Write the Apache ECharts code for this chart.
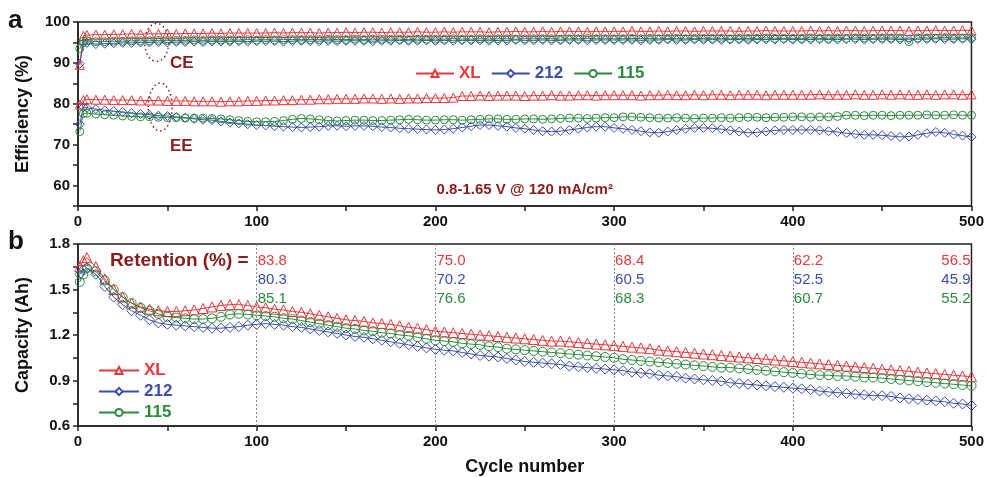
<!DOCTYPE html>
<html>
<head>
<meta charset="utf-8">
<script src="https://cdn.jsdelivr.net/npm/echarts@6/dist/echarts.min.js"></script>
<style>
  html, body { margin: 0; padding: 0; background: #fff; }
  #chart { width: 987px; height: 477px; }
</style>
</head>
<body>
<div id="chart"></div>
<script>
// cycles sampled: 1, 3, then every 5 cycles up to 500
const cycles = [1, 3];
for (let c = 5; c <= 500; c += 5) cycles.push(c);

// panel a: coulombic efficiency (%)
const ceXL = [
  89.5, 96.6, 96.8, 96.9, 96.9, 97.0, 97.0, 97.1, 97.0, 97.1, 97.1, 97.2,
  97.1, 97.2, 97.2, 97.2, 97.3, 97.2, 97.3, 97.3, 97.3, 97.3,
  97.3, 97.4, 97.3, 97.4, 97.4, 97.4, 97.3, 97.4, 97.4, 97.5,
  97.4, 97.5, 97.5, 97.4, 97.5, 97.5, 97.5, 97.6, 97.5, 97.5,
  97.6, 97.5, 97.6, 97.6, 97.6, 97.5, 97.6, 97.6, 97.7, 97.6,
  97.6, 97.7, 97.6, 97.7, 97.7, 97.7, 97.6, 97.7, 97.7, 97.7,
  97.7, 97.8, 97.7, 97.7, 97.8, 97.7, 97.8, 97.8, 97.7, 97.8,
  97.8, 97.8, 97.8, 97.7, 97.8, 97.8, 97.9, 97.8, 97.8, 97.8,
  97.8, 97.9, 97.8, 97.9, 97.8, 97.9, 97.9, 97.8, 97.9, 97.9,
  97.9, 97.9, 97.8, 97.9, 97.9, 98.0, 97.9, 97.9, 98.0, 97.9
];
const ce212 = [
  89.8, 94.8, 94.9, 94.6, 94.7, 94.8, 94.9, 94.9, 95.0, 95.0, 95.1, 95.0,
  95.1, 95.1, 95.2, 95.1, 95.2, 95.2, 95.2, 95.3, 95.2, 95.3,
  95.3, 95.3, 95.2, 95.3, 95.4, 95.3, 95.3, 95.4, 95.3, 95.4,
  95.4, 95.4, 95.3, 95.4, 95.4, 95.5, 95.4, 95.4, 95.5, 95.4,
  95.5, 95.4, 95.5, 95.5, 95.5, 95.4, 95.5, 95.5, 95.6, 95.5,
  95.5, 95.6, 95.5, 95.5, 95.6, 95.6, 95.5, 95.6, 95.6, 95.6,
  95.6, 95.6, 95.5, 95.6, 95.6, 95.7, 95.6, 95.6, 95.7, 95.6,
  95.7, 95.6, 95.7, 95.7, 95.6, 95.7, 95.7, 95.7, 95.8, 95.7,
  95.7, 95.7, 95.8, 95.7, 95.7, 95.8, 95.8, 95.7, 95.8, 95.8,
  95.8, 95.7, 95.8, 95.8, 95.8, 95.9, 95.8, 95.8, 95.9, 95.8
];
const ce115 = [
  93.5, 95.3, 95.4, 95.2, 95.2, 95.3, 95.3, 95.4, 95.4, 95.4, 95.5, 95.5,
  95.5, 95.5, 95.6, 95.5, 95.6, 95.6, 95.6, 95.6, 95.7, 95.6,
  95.7, 95.6, 95.7, 95.7, 95.7, 95.7, 95.7, 95.8, 95.7, 95.7,
  95.8, 95.7, 95.8, 95.8, 95.8, 95.8, 95.7, 95.8, 95.8, 95.8,
  95.8, 95.9, 95.8, 95.8, 95.9, 95.8, 95.9, 95.9, 95.8, 95.9,
  95.9, 95.9, 95.9, 95.8, 95.9, 95.9, 96.0, 95.9, 95.9, 95.9,
  95.9, 96.0, 95.9, 96.0, 95.9, 96.0, 96.0, 95.9, 96.0, 96.0,
  96.0, 96.0, 95.9, 96.0, 96.0, 96.0, 96.1, 96.0, 96.0, 96.0,
  96.0, 96.1, 96.0, 96.0, 96.1, 96.0, 96.1, 96.1, 96.0, 96.1,
  96.1, 96.1, 95.2, 96.1, 96.1, 96.1, 96.2, 96.1, 96.1, 96.2
];

// panel a: energy efficiency (%)
const eeXL = [
  79.8, 80.9, 81.1, 81.0, 81.0, 80.9, 80.9, 80.9, 80.8, 80.8, 80.8, 80.7,
  80.7, 80.7, 80.6, 80.6, 80.6, 80.5, 80.6, 80.6, 80.7, 80.7,
  80.8, 80.8, 80.9, 80.9, 81.0, 81.0, 81.1, 81.1, 81.2, 81.2,
  81.2, 81.3, 81.3, 81.2, 81.3, 81.2, 81.3, 81.3, 81.4, 81.4,
  81.4, 81.5, 81.9, 81.9, 82.0, 81.9, 82.0, 82.0, 82.0, 81.9,
  82.0, 82.0, 82.1, 82.0, 82.0, 82.1, 82.1, 82.0, 82.1, 82.1,
  82.1, 82.1, 82.0, 82.1, 82.1, 82.2, 82.1, 82.1, 82.2, 82.1,
  82.2, 82.2, 82.1, 82.2, 82.2, 82.2, 82.1, 82.2, 82.2, 82.2,
  82.2, 82.2, 82.3, 82.2, 82.2, 82.2, 82.3, 82.2, 82.2, 82.3,
  82.2, 82.3, 82.2, 82.2, 82.3, 82.2, 82.3, 82.3, 82.2, 82.3
];
const ee212 = [
  75.0, 79.2, 79.0, 78.7, 78.4, 78.2, 78.0, 77.7, 77.5, 77.3, 77.1, 77.0,
  76.8, 76.6, 76.3, 76.1, 76.0, 75.7, 75.4, 75.2, 75.0, 74.8,
  74.7, 74.5, 74.4, 74.3, 74.2, 74.3, 74.4, 74.6, 74.6, 74.5,
  74.6, 74.6, 74.5, 74.3, 74.2, 74.0, 73.9, 73.8, 73.7, 73.6,
  73.7, 73.9, 74.2, 74.5, 74.8, 74.8, 74.6, 74.4, 74.1, 73.9,
  73.6, 73.3, 73.2, 73.3, 73.6, 73.9, 74.2, 74.4, 74.4, 74.1,
  73.9, 73.6, 73.3, 73.0, 72.9, 73.2, 73.6, 73.9, 74.1, 74.1,
  74.0, 73.8, 73.5, 73.2, 72.9, 73.0, 73.2, 73.5, 73.6, 73.6,
  73.6, 73.6, 73.5, 73.3, 73.1, 72.8, 72.6, 72.4, 72.4, 72.3,
  72.1, 71.9, 72.0, 72.4, 72.8, 73.1, 72.9, 72.5, 72.2, 71.9
];
const ee115 = [
  73.2, 77.6, 77.7, 77.5, 77.3, 77.2, 77.0, 76.9, 76.8, 76.8, 76.7, 76.6,
  76.6, 76.5, 76.5, 76.5, 76.4, 76.3, 76.1, 75.9, 75.7, 75.6,
  75.6, 75.7, 75.9, 76.2, 76.4, 76.3, 76.1, 75.9, 75.8, 75.9,
  76.0, 76.0, 75.9, 75.9, 76.0, 76.1, 76.2, 76.1, 76.0, 76.0,
  76.1, 76.1, 76.0, 76.1, 76.2, 76.3, 76.3, 76.2, 76.2, 76.3,
  76.3, 76.2, 76.3, 76.4, 76.5, 76.5, 76.4, 76.5, 76.6, 76.6,
  76.8, 76.8, 76.7, 76.6, 76.5, 76.5, 76.6, 76.5, 76.4, 76.5,
  76.5, 76.6, 76.5, 76.6, 76.7, 76.7, 76.6, 76.7, 76.7, 76.8,
  76.8, 76.7, 76.8, 76.8, 76.9, 77.2, 77.2, 77.1, 77.2, 77.2,
  77.1, 77.2, 77.2, 77.2, 77.3, 77.2, 77.2, 77.3, 77.2, 77.2
];

// panel b: capacity (Ah)
const capXL = [
  1.65, 1.69, 1.71, 1.65, 1.57, 1.50, 1.45, 1.41, 1.385, 1.37, 1.36, 1.355,
  1.355, 1.36, 1.365, 1.375, 1.385, 1.395, 1.40, 1.40, 1.395, 1.385,
  1.38, 1.37, 1.365, 1.355, 1.35, 1.34, 1.33, 1.32, 1.31, 1.30,
  1.295, 1.29, 1.28, 1.275, 1.27, 1.26, 1.25, 1.245, 1.235, 1.225,
  1.22, 1.215, 1.21, 1.205, 1.20, 1.195, 1.19, 1.185, 1.18, 1.175,
  1.17, 1.165, 1.16, 1.16, 1.155, 1.15, 1.145, 1.14, 1.135, 1.13,
  1.125, 1.12, 1.115, 1.11, 1.10, 1.095, 1.09, 1.085, 1.08, 1.075,
  1.07, 1.065, 1.06, 1.055, 1.05, 1.045, 1.04, 1.035, 1.03, 1.025,
  1.02, 1.015, 1.01, 1.005, 1.00, 0.995, 0.99, 0.985, 0.98, 0.975,
  0.97, 0.965, 0.96, 0.955, 0.95, 0.945, 0.94, 0.935, 0.93, 0.925
];
const cap212 = [
  1.60, 1.63, 1.64, 1.60, 1.52, 1.45, 1.40, 1.36, 1.33, 1.30, 1.28, 1.27,
  1.265, 1.26, 1.255, 1.25, 1.245, 1.245, 1.25, 1.255, 1.265, 1.27,
  1.275, 1.27, 1.265, 1.255, 1.25, 1.24, 1.23, 1.22, 1.21, 1.20,
  1.19, 1.185, 1.175, 1.165, 1.155, 1.145, 1.135, 1.125, 1.115, 1.105,
  1.10, 1.095, 1.085, 1.075, 1.065, 1.06, 1.055, 1.045, 1.035, 1.025,
  1.02, 1.015, 1.01, 1.005, 0.995, 0.99, 0.985, 0.98, 0.975, 0.97,
  0.965, 0.955, 0.95, 0.945, 0.935, 0.93, 0.925, 0.915, 0.91, 0.905,
  0.90, 0.895, 0.885, 0.88, 0.875, 0.87, 0.865, 0.86, 0.855, 0.85,
  0.845, 0.84, 0.83, 0.825, 0.82, 0.815, 0.81, 0.805, 0.80, 0.80,
  0.795, 0.785, 0.78, 0.775, 0.77, 0.765, 0.76, 0.75, 0.745, 0.735
];
const cap115 = [
  1.55, 1.60, 1.64, 1.62, 1.56, 1.50, 1.45, 1.41, 1.38, 1.36, 1.34, 1.32,
  1.315, 1.31, 1.305, 1.305, 1.31, 1.32, 1.335, 1.34, 1.335, 1.33,
  1.325, 1.32, 1.31, 1.305, 1.295, 1.285, 1.275, 1.265, 1.255, 1.245,
  1.24, 1.23, 1.225, 1.215, 1.21, 1.20, 1.195, 1.185, 1.175, 1.165,
  1.16, 1.155, 1.145, 1.14, 1.135, 1.125, 1.12, 1.11, 1.105, 1.10,
  1.095, 1.09, 1.085, 1.08, 1.075, 1.07, 1.065, 1.06, 1.055, 1.05,
  1.04, 1.035, 1.03, 1.025, 1.02, 1.015, 1.01, 1.005, 1.00, 0.995,
  0.99, 0.985, 0.985, 0.98, 0.975, 0.97, 0.965, 0.96, 0.955, 0.95,
  0.945, 0.94, 0.935, 0.935, 0.93, 0.93, 0.925, 0.92, 0.92, 0.915,
  0.91, 0.905, 0.90, 0.895, 0.89, 0.885, 0.88, 0.875, 0.87, 0.865
];

// retention (%) annotations
const retCycles = [100, 200, 300, 400, 500];
const retXL = [83.8, 75.0, 68.4, 62.2, 56.5];
const ret212 = [80.3, 70.2, 60.5, 52.5, 45.9];
const ret115 = [85.1, 76.6, 68.3, 60.7, 55.2];

const names = ["XL", "212", "115"];
const colors = { XL: "#e8383c", "212": "#3b4ea8", "115": "#2b8a3e" };
const symbols = { XL: "triangle", "212": "diamond", "115": "circle" };
const darkRed = "#8b1a1a";
const FONT = "'Liberation Sans', Arial, sans-serif";

const chart = echarts.init(document.getElementById("chart"));

const pairs = (ys) => cycles.map((c, i) => [c, ys[i]]);

// hollow markers, drawn at every sample so they overlap into a band
const mkSeries = (name, ys, gridIdx, size) => ({
  name,
  type: "line",
  xAxisIndex: gridIdx,
  yAxisIndex: gridIdx,
  data: pairs(ys),
  symbol: symbols[name],
  symbolSize: size,
  showAllSymbol: true,
  lineStyle: { width: 1, color: colors[name] },
  itemStyle: { color: "rgba(255,255,255,0)", borderColor: colors[name], borderWidth: 1 },
  emphasis: { disabled: true },
  silent: true,
});

const axisLbl = { color: "#111", fontWeight: "bold", fontSize: 15, fontFamily: FONT };
const axisLn = { lineStyle: { color: "#222", width: 1.5 } };

const xAxisBase = (gridIndex) => ({
  type: "value",
  gridIndex,
  min: 0,
  max: 500,
  interval: 100,
  axisLine: axisLn,
  axisTick: { length: 5, lineStyle: { color: "#222", width: 1.5 } },
  minorTick: { show: true, splitNumber: 2, length: 5, lineStyle: { color: "#222", width: 1.5 } },
  axisLabel: { ...axisLbl, margin: 8 },
  splitLine: { show: false },
});

const seriesList = [
  mkSeries("XL", ceXL, 0, 9),
  mkSeries("212", ce212, 0, 9),
  mkSeries("115", ce115, 0, 8),
  mkSeries("XL", eeXL, 0, 9),
  mkSeries("212", ee212, 0, 9),
  mkSeries("115", ee115, 0, 8),
  mkSeries("XL", capXL, 1, 10),
  mkSeries("212", cap212, 1, 10),
  mkSeries("115", cap115, 1, 9),
];

// dotted guide lines at the retention checkpoints
seriesList[6].markLine = {
  silent: true,
  symbol: "none",
  label: { show: false },
  lineStyle: { type: [2, 2], color: "#888", width: 1 },
  data: retCycles.slice(0, 4).map((c) => ({ xAxis: c })),
};

const legendData = names.map((n) => ({
  name: n,
  textStyle: { color: colors[n] },
  itemStyle: { color: "#fff" },
}));
const legendText = { fontWeight: "bold", fontSize: 17, fontFamily: FONT };

chart.setOption({
  animation: false,
  backgroundColor: "#fff",
  grid: [
    { left: 78, top: 22, width: 897, height: 184, show: true, borderColor: "#222", borderWidth: 1.5 },
    { left: 78, top: 244, width: 897, height: 185, show: true, borderColor: "#222", borderWidth: 1.5 },
  ],
  legend: [
    {
      data: legendData,
      left: 410,
      top: 60,
      orient: "horizontal",
      itemWidth: 38,
      itemHeight: 9,
      itemGap: 10,
      selectedMode: false,
      textStyle: legendText,
    },
    {
      data: legendData,
      left: 93,
      top: 357,
      orient: "vertical",
      itemWidth: 40,
      itemHeight: 9,
      itemGap: 4,
      selectedMode: false,
      textStyle: legendText,
    },
  ],
  xAxis: [
    xAxisBase(0),
    {
      ...xAxisBase(1),
      name: "Cycle number",
      nameLocation: "middle",
      nameGap: 32,
      nameTextStyle: { color: "#111", fontWeight: "bold", fontSize: 18, fontFamily: FONT },
    },
  ],
  yAxis: [
    {
      type: "value",
      gridIndex: 0,
      min: 55,
      max: 100,
      interval: 5,
      axisLine: { show: true, ...axisLn },
      axisTick: { show: true, length: 5, lineStyle: { color: "#222", width: 1.5 } },
      axisLabel: { ...axisLbl, margin: 8, formatter: (v) => (v % 10 === 0 ? String(v) : "") },
      splitLine: { show: false },
      name: "Efficiency (%)",
      nameLocation: "middle",
      nameGap: 46,
      nameTextStyle: { color: "#111", fontWeight: "bold", fontSize: 18, fontFamily: FONT },
    },
    {
      type: "value",
      gridIndex: 1,
      min: 0.6,
      max: 1.8,
      interval: 0.3,
      axisLine: { show: true, ...axisLn },
      axisTick: { show: true, length: 5, lineStyle: { color: "#222", width: 1.5 } },
      minorTick: { show: true, splitNumber: 2, length: 5, lineStyle: { color: "#222", width: 1.5 } },
      axisLabel: { ...axisLbl, margin: 8, formatter: (v) => v.toFixed(1) },
      splitLine: { show: false },
      name: "Capacity (Ah)",
      nameLocation: "middle",
      nameGap: 46,
      nameTextStyle: { color: "#111", fontWeight: "bold", fontSize: 18, fontFamily: FONT },
    },
  ],
  series: seriesList,
});

// annotations placed through the axes
const px = (gi, x, y) => chart.convertToPixel({ xAxisIndex: gi, yAxisIndex: gi }, [x, y]);
const gfx = [];

gfx.push({ type: "text", left: 8, top: 8, style: { text: "a", font: `bold 26px ${FONT}`, fill: "#111" } });
gfx.push({ type: "text", left: 8, top: 229, style: { text: "b", font: `bold 26px ${FONT}`, fill: "#111" } });

const ceC = px(0, 44, 95.0);
const eeC = px(0, 46, 79.2);
const ell = (c, rx, ry) => ({
  type: "ellipse",
  shape: { cx: c[0], cy: c[1], rx, ry },
  style: { fill: "none", stroke: darkRed, lineWidth: 1.5, lineDash: [1.5, 3] },
  silent: true,
});
gfx.push(ell(ceC, 12, 19));
gfx.push(ell(eeC, 12, 24));

gfx.push({ type: "text", x: 170, y: 63, style: { text: "CE", font: `bold 17px ${FONT}`, fill: darkRed, verticalAlign: "middle" } });
gfx.push({ type: "text", x: 170, y: 146, style: { text: "EE", font: `bold 17px ${FONT}`, fill: darkRed, verticalAlign: "middle" } });

const condPos = px(0, 250, 59);
gfx.push({
  type: "text",
  x: condPos[0],
  y: condPos[1],
  style: {
    text: "0.8-1.65 V @ 120 mA/cm²",
    font: `bold 15px ${FONT}`,
    fill: darkRed,
    align: "center",
    verticalAlign: "middle",
  },
});

const retRows = [retXL, ret212, ret115];
const rowColors = [colors.XL, colors["212"], colors["115"]];
const retTop = px(1, 100, 1.69);
gfx.push({
  type: "text",
  x: retTop[0] - 8,
  y: retTop[1],
  style: { text: "Retention (%) =", font: `bold 19px ${FONT}`, fill: darkRed, align: "right", verticalAlign: "middle" },
});
retCycles.forEach((c, j) => {
  retRows.forEach((row, i) => {
    const p = px(1, c, 1.69);
    const last = j === retCycles.length - 1;
    gfx.push({
      type: "text",
      x: last ? p[0] - 1 : p[0] + 1,
      y: p[1] + i * 19,
      style: {
        text: row[j].toFixed(1),
        font: `15px ${FONT}`,
        fill: rowColors[i],
        align: last ? "right" : "left",
        verticalAlign: "middle",
      },
    });
  });
});

chart.setOption({ graphic: gfx });
</script>
</body>
</html>
